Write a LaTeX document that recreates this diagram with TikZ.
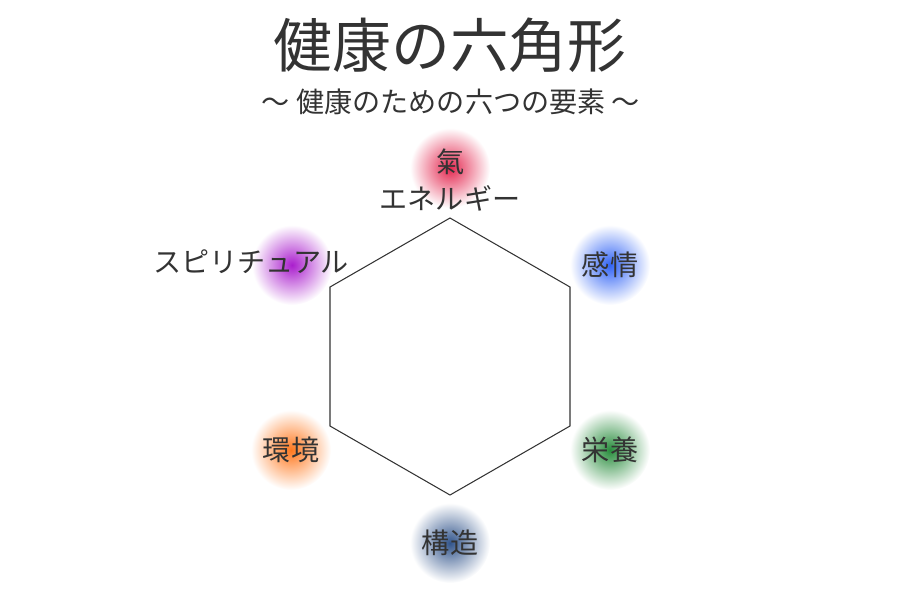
\documentclass[tikz,border=0pt]{standalone}
\usepackage{fontspec}
\setmainfont{Noto Sans CJK JP}
\usetikzlibrary{positioning}
\definecolor{textgray}{RGB}{51, 51, 51}
\definecolor{kired}{RGB}{228, 40, 80}
\definecolor{emoblue}{RGB}{50, 100, 245}
\definecolor{nutgreen}{RGB}{40, 140, 60}
\definecolor{strnavy}{RGB}{50, 85, 140}
\definecolor{envorange}{RGB}{255, 120, 30}
\definecolor{spipurple}{RGB}{170, 30, 205}

\begin{document}
\begin{tikzpicture}[x=0.02cm, y=-0.02cm,
  glow/.style={circle, minimum size=1.6cm, inner sep=0pt, shade, inner color=#1, outer color=white},
  lbl/.style={font=\fontsize{16}{19}\selectfont, text=textgray, inner sep=0pt}]
\useasboundingbox (0,0) rectangle (900,600);

% 見出し
\node[font=\fontsize{33.5}{38}\selectfont, text=textgray] (title) at (450,45) {健康の六角形};
\node[font=\fontsize{16}{19}\selectfont, text=textgray] (subtitle) at (451,102) {〜 健康のための六つの要素 〜};

% 六角形
\coordinate (v1) at (450,218);
\coordinate (v2) at (570,287);
\coordinate (v3) at (570,426);
\coordinate (v4) at (450,495);
\coordinate (v5) at (330,426);
\coordinate (v6) at (330,287);
\draw[line width=0.6pt, textgray] (v1) -- (v2) -- (v3) -- (v4) -- (v5) -- (v6) -- cycle;

% 光
\node[glow=kired] (g1) at (450,168) {};
\node[glow=emoblue] (g2) at (610,265) {};
\node[glow=nutgreen] (g3) at (610,450) {};
\node[glow=strnavy] (g4) at (450,543) {};
\node[glow=envorange] (g5) at (291,450) {};
\node[glow=spipurple] (g6) at (292,265) {};

% 要素
\node[lbl] (ki) at (451,162) {氣};
\node[lbl] (energy) at (450,198) {エネルギー};
\node[lbl] (emotion) at (g2) {感情};
\node[lbl] (nutrition) at (g3) {栄養};
\node[lbl] (structure) at (g4) {構造};
\node[lbl] (environment) at (g5) {環境};
\node[lbl] (spiritual) at (251,262) {スピリチュアル};
\end{tikzpicture}
\end{document}
